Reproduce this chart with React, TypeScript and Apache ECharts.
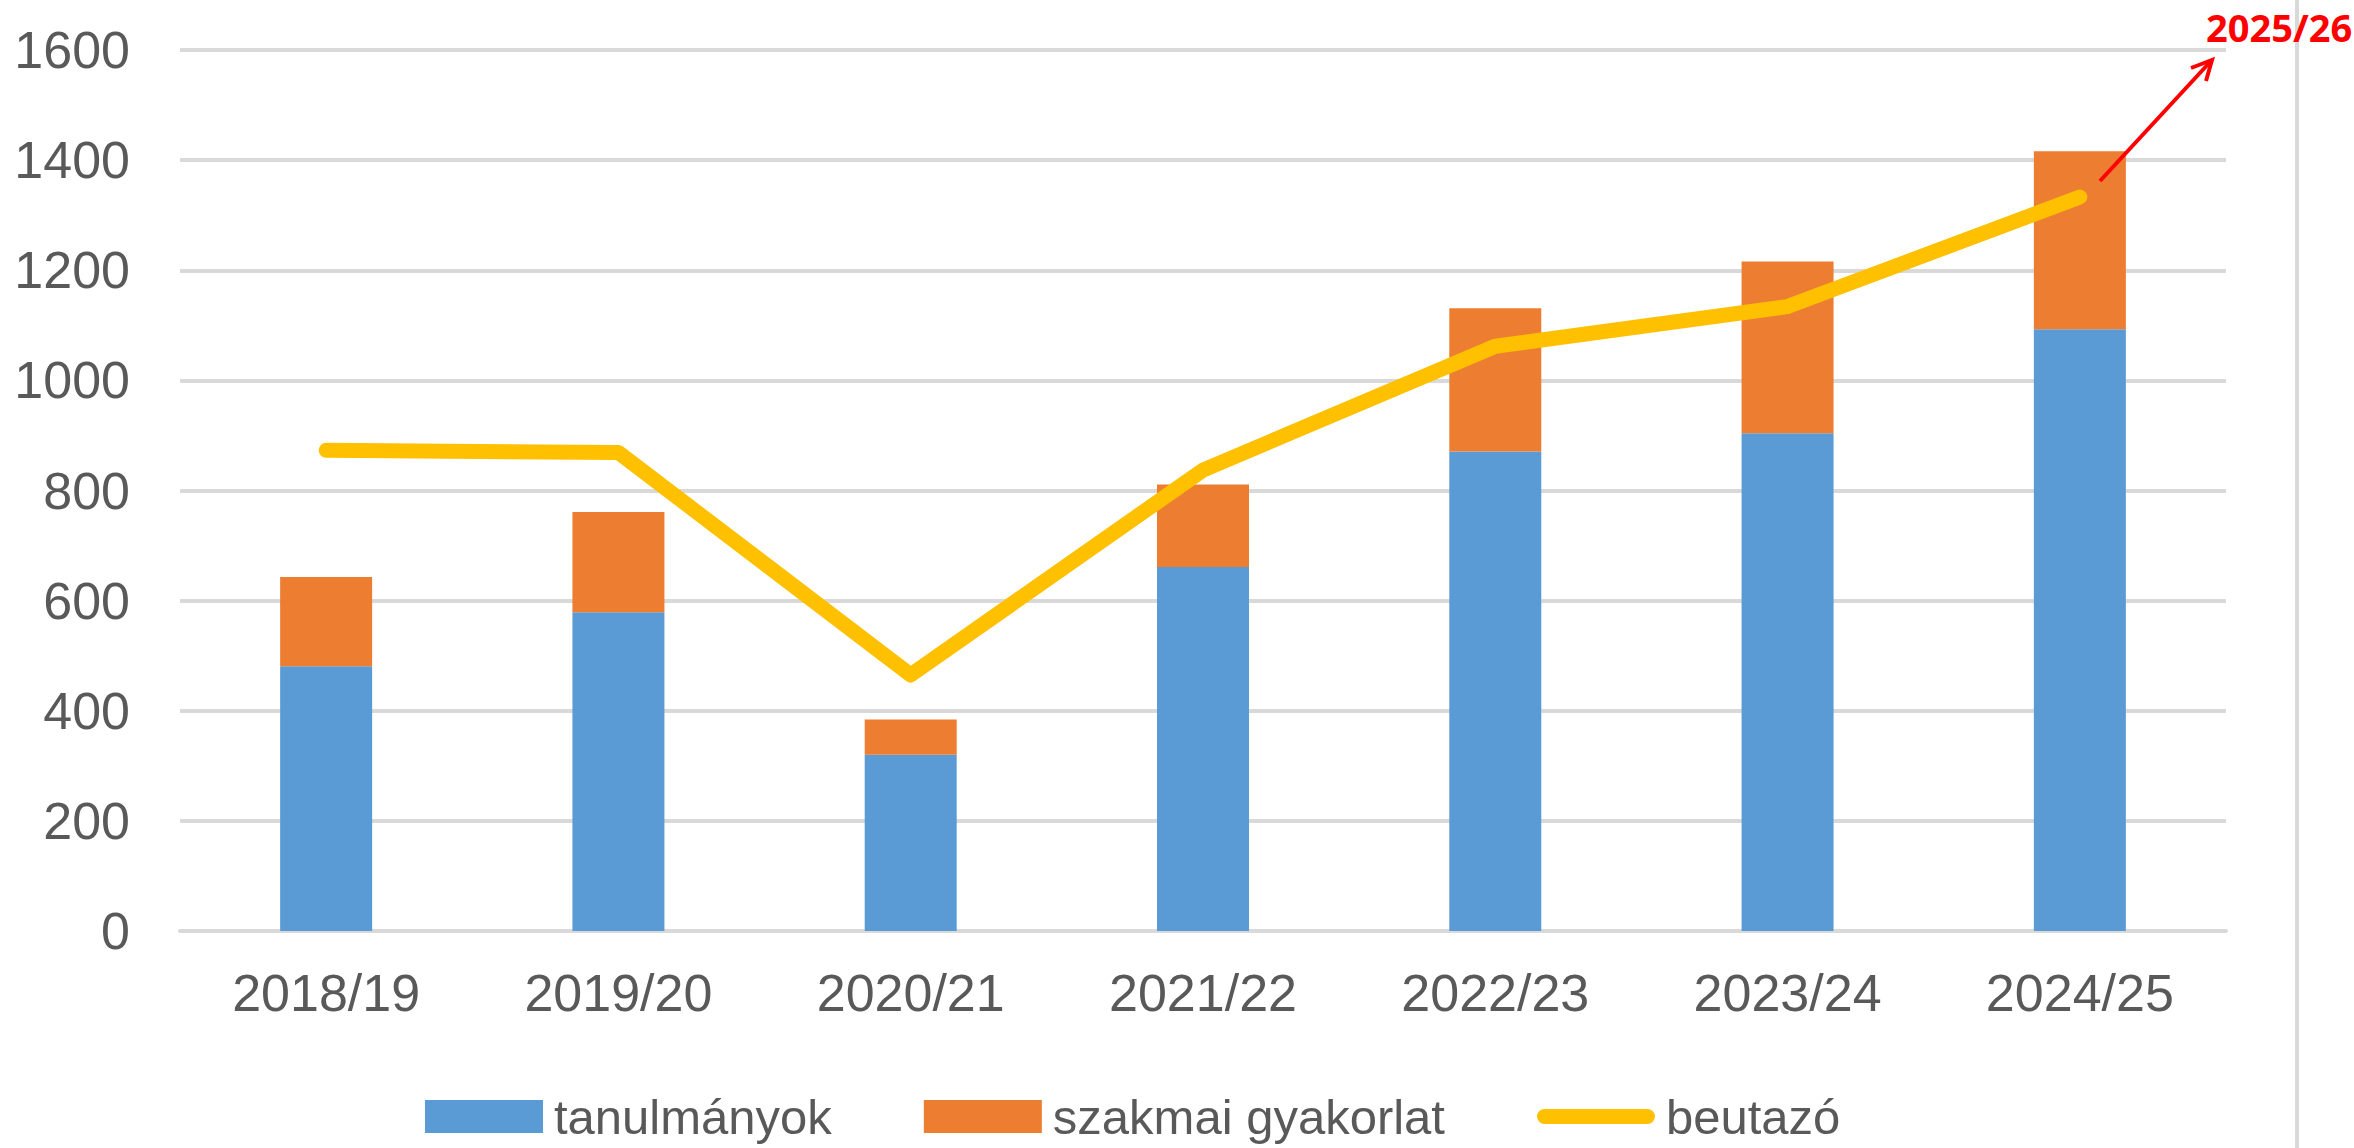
import React, { useEffect, useRef } from "react";
import * as echarts from "echarts";

const categories = ["2018/19", "2019/20", "2020/21", "2021/22", "2022/23", "2023/24", "2024/25"];
const tanulmanyok = [481, 579, 320, 661, 871, 904, 1093];
const szakmaiGyakorlat = [162, 182, 64, 150, 260, 312, 323];
const beutazo = [873, 869, 465, 837, 1062, 1134, 1333];
const yTicks = { min: 0, max: 1600, interval: 200 };
const annotationLabel = "2025/26";

const GRAY = "#595959";
const GRID = "#D9D9D9";
const FONT = "'Liberation Sans', Arial, sans-serif";

export default function App() {
  const ref = useRef<HTMLDivElement>(null);
  useEffect(() => {
    if (!ref.current) return;
    const chart = echarts.init(ref.current, undefined, { renderer: "svg" });
    chart.setOption({
      animation: false,
      backgroundColor: "#ffffff",
      grid: { left: 180, right: 128, top: 50, bottom: 217, containLabel: false },
      legend: {
        left: 420,
        top: 1087,
        itemWidth: 118,
        itemHeight: 33,
        itemGap: 92,
        textStyle: { color: GRAY, fontSize: 49, fontFamily: FONT, lineHeight: 48, padding: [0, 0, 0, 6] },
        data: [
          { name: "tanulmányok", icon: "rect" },
          { name: "szakmai gyakorlat", icon: "rect" },
          {
            name: "beutazó",
            icon: "path://M7.5,0 L110.5,0 A7.5,7.5 0 0 1 110.5,15 L7.5,15 A7.5,7.5 0 0 1 7.5,0 Z",
            itemStyle: { color: "#FFC000" },
          },
        ],
      },
      xAxis: {
        type: "category",
        data: categories,
        axisLine: { show: true, lineStyle: { color: GRID, width: 4 } },
        axisTick: { show: false },
        axisLabel: { color: GRAY, fontSize: 52, fontFamily: FONT, margin: 36 },
      },
      yAxis: {
        type: "value",
        min: yTicks.min,
        max: yTicks.max,
        interval: yTicks.interval,
        axisLine: { show: false },
        axisTick: { show: false },
        axisLabel: {
          color: GRAY,
          fontSize: 52,
          fontFamily: FONT,
          margin: 50,
          formatter: (v: number) => String(v),
        },
        splitLine: { lineStyle: { color: GRID, width: 4 } },
      },
      series: [
        {
          name: "tanulmányok",
          type: "bar",
          stack: "total",
          barWidth: 92,
          data: tanulmanyok,
          itemStyle: { color: "#5B9BD5" },
        },
        {
          name: "szakmai gyakorlat",
          type: "bar",
          stack: "total",
          barWidth: 92,
          data: szakmaiGyakorlat,
          itemStyle: { color: "#ED7D31" },
        },
        {
          name: "beutazó",
          type: "line",
          data: beutazo,
          symbol: "none",
          z: 5,
          lineStyle: { color: "#FFC000", width: 15, cap: "round", join: "round" },
          itemStyle: { color: "#FFC000" },
        },
      ],
      graphic: [
        {
          type: "line",
          shape: { x1: 2297, y1: 0, x2: 2297, y2: 1148 },
          style: { stroke: GRID, lineWidth: 4 },
        },
        {
          type: "line",
          shape: { x1: 2100, y1: 181, x2: 2211, y2: 61 },
          style: { stroke: "#FF0000", lineWidth: 4 },
          z: 10,
        },
        {
          type: "polyline",
          shape: { points: [[2191, 68], [2212, 60], [2206, 81]] },
          style: { stroke: "#FF0000", lineWidth: 4, fill: "none" },
          z: 10,
        },
        {
          type: "text",
          x: 2206,
          y: 27,
          style: {
            text: annotationLabel,
            fill: "#FF0000",
            font: "bold 38px 'Noto Sans', sans-serif",
            verticalAlign: "middle",
            align: "left",
          },
          z: 10,
        },
      ],
    });
    return () => chart.dispose();
  }, []);
  return (
    <div
      ref={ref}
      style={{ position: "fixed", left: 0, top: 0, width: 2354, height: 1148, background: "#fff" }}
    />
  );
}
